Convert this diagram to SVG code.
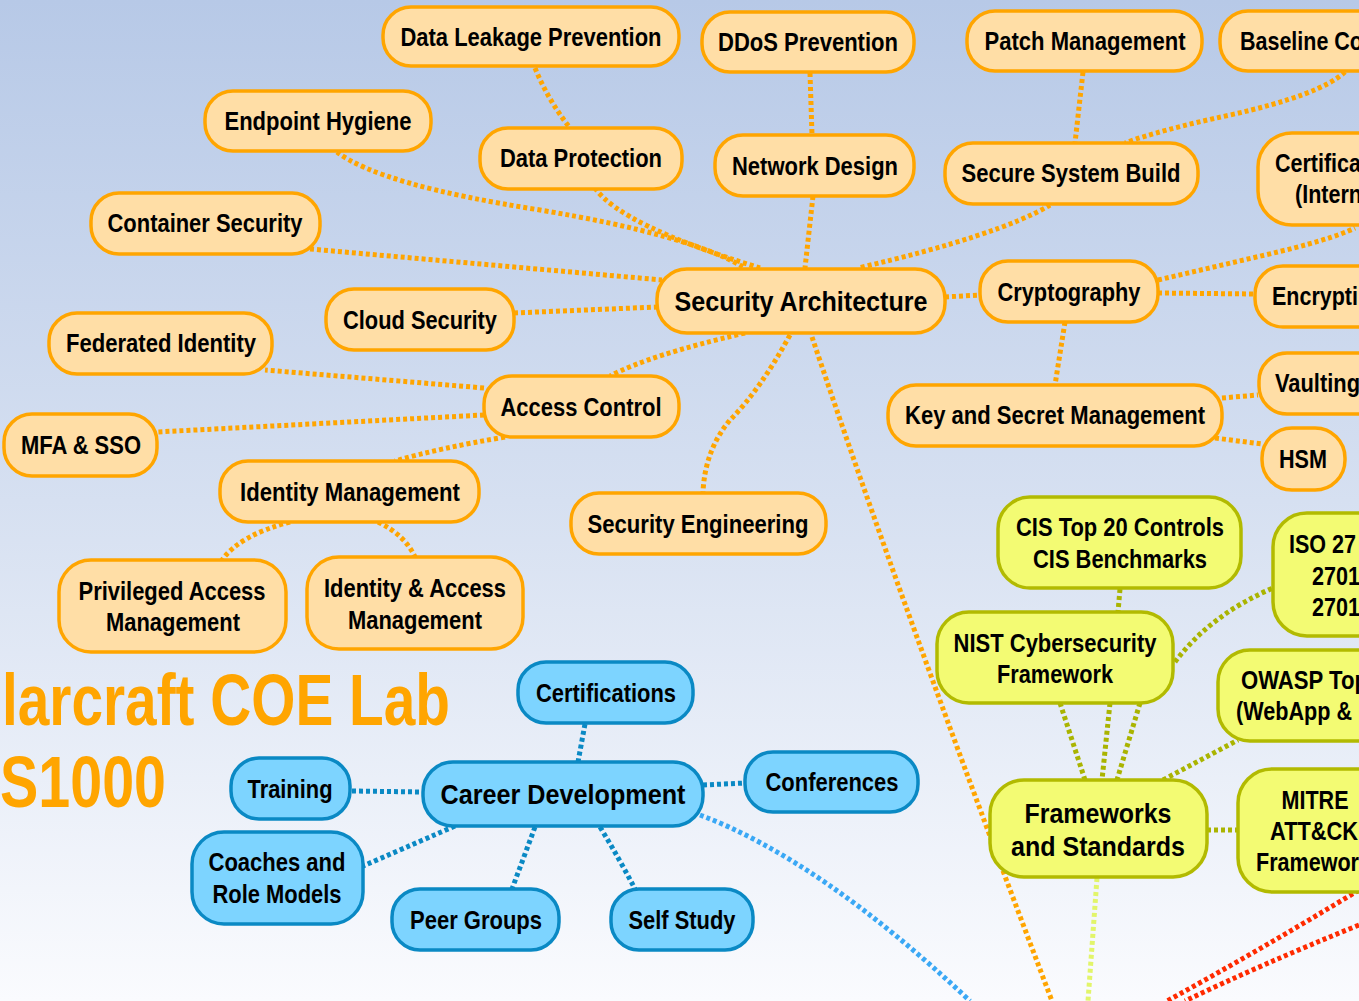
<svg xmlns="http://www.w3.org/2000/svg" width="1359" height="1001" viewBox="0 0 1359 1001">
<defs>
<linearGradient id="bg" x1="0" y1="0" x2="0" y2="1">
<stop offset="0" stop-color="#b7c9e7"/>
<stop offset="0.5" stop-color="#d6e0f1"/>
<stop offset="1" stop-color="#fafbfe"/>
</linearGradient>
<style>
.o rect{fill:#ffdea6;stroke:#ffa500;stroke-width:3.5}
.b rect{fill:#7dd4ff;stroke:#0a89c4;stroke-width:3.5}
.y rect{fill:#f3fb73;stroke:#b2ba00;stroke-width:3.5}
text{font-family:"Liberation Sans",Arial,sans-serif;font-weight:bold;fill:#000;font-size:25px}
.c{text-anchor:middle}
.big{font-size:28px}
.title{fill:#ffa500;font-size:72px}
#connectors path{fill:none;stroke-width:5;stroke-dasharray:4 3}
.co{stroke:#ffa500}
.cb{stroke:#0a89c4}
.cl{stroke:#3aa8f5}
.cy{stroke:#aab400}
.cyl{stroke:#e2f56a}
.cr{stroke:#ff2a00}
</style>
</defs>
<rect width="1359" height="1001" fill="url(#bg)"/>

<g id="title">
<text class="title" x="2" y="725" textLength="448" lengthAdjust="spacingAndGlyphs">larcraft COE Lab</text>
<text class="title" x="0" y="807" textLength="166" lengthAdjust="spacingAndGlyphs">S1000</text>
</g>

<g id="connectors">
<path class="co" d="M535,68 Q548,100 570,128"/>
<path class="co" d="M810,73 L812,135"/>
<path class="co" d="M1083,72 L1075,143"/>
<path class="co" d="M1345,72 Q1320,95 1230,115 Q1160,130 1125,143"/>
<path class="co" d="M813,196 L805,268"/>
<path class="co" d="M1050,205 Q1000,235 858,268"/>
<path class="co" d="M595,188 Q620,225 760,268"/>
<path class="co" d="M337,152 Q380,185 540,210 Q690,235 745,268"/>
<path class="co" d="M310,249 L662,280"/>
<path class="co" d="M514,313 L657,307"/>
<path class="co" d="M945,297 L980,295"/>
<path class="co" d="M1158,280 L1265,255 Q1330,240 1355,228"/>
<path class="co" d="M1158,293 L1255,294"/>
<path class="co" d="M1065,322 L1055,385"/>
<path class="co" d="M1222,398 L1258,395"/>
<path class="co" d="M1215,438 L1262,444"/>
<path class="co" d="M745,333 Q650,355 610,376"/>
<path class="co" d="M790,335 Q760,390 730,420 Q705,450 703,492"/>
<path class="co" d="M812,337 Q900,600 1052,1001"/>
<path class="co" d="M484,388 L265,370"/>
<path class="co" d="M484,415 L157,432"/>
<path class="co" d="M505,437 Q440,448 395,461"/>
<path class="co" d="M290,522 Q240,535 222,560"/>
<path class="co" d="M378,522 Q405,535 415,557"/>

<path class="cb" d="M585,724 L578,762"/>
<path class="cb" d="M352,791 L423,792"/>
<path class="cb" d="M703,785 L745,783"/>
<path class="cb" d="M455,826 Q400,850 363,866"/>
<path class="cb" d="M535,827 L512,889"/>
<path class="cb" d="M600,827 Q620,860 635,889"/>
<path class="cl" d="M700,815 Q820,860 970,1001"/>

<path class="cy" d="M1120,589 L1118,612"/>
<path class="cy" d="M1175,662 Q1210,615 1273,588"/>
<path class="cy" d="M1060,703 L1085,780"/>
<path class="cy" d="M1110,703 L1102,780"/>
<path class="cy" d="M1140,703 L1117,780"/>
<path class="cy" d="M1163,780 L1238,740"/>
<path class="cy" d="M1207,830 L1238,830"/>
<path class="cyl" d="M1097,878 L1088,1001"/>

<path class="cr" d="M1359,890 Q1260,950 1167,1001"/>
<path class="cr" d="M1359,925 Q1260,965 1185,1001"/>
</g>

<g id="n-dlp" class="o"><rect x="383" y="7" width="296" height="59" rx="28"/><text class="c" x="531" y="46" textLength="261" lengthAdjust="spacingAndGlyphs">Data Leakage Prevention</text></g>
<g id="n-ddos" class="o"><rect x="702" y="12" width="212" height="60" rx="28"/><text class="c" x="808" y="51" textLength="180" lengthAdjust="spacingAndGlyphs">DDoS Prevention</text></g>
<g id="n-patch" class="o"><rect x="967" y="11" width="235" height="60" rx="28"/><text class="c" x="1085" y="50" textLength="201" lengthAdjust="spacingAndGlyphs">Patch Management</text></g>
<g id="n-baseline" class="o"><rect x="1220" y="11" width="180" height="60" rx="28"/><text x="1240" y="50" textLength="123" lengthAdjust="spacingAndGlyphs">Baseline Co</text></g>
<g id="n-endpoint" class="o"><rect x="205" y="91" width="226" height="60" rx="28"/><text class="c" x="318" y="130" textLength="187" lengthAdjust="spacingAndGlyphs">Endpoint Hygiene</text></g>
<g id="n-dataprot" class="o"><rect x="480" y="128" width="202" height="61" rx="28"/><text class="c" x="581" y="167" textLength="162" lengthAdjust="spacingAndGlyphs">Data Protection</text></g>
<g id="n-netdesign" class="o"><rect x="715" y="135" width="199" height="61" rx="28"/><text class="c" x="815" y="175" textLength="166" lengthAdjust="spacingAndGlyphs">Network Design</text></g>
<g id="n-ssb" class="o"><rect x="945" y="143" width="253" height="61" rx="28"/><text class="c" x="1071" y="182" textLength="219" lengthAdjust="spacingAndGlyphs">Secure System Build</text></g>
<g id="n-cert" class="o"><rect x="1258" y="133" width="140" height="92" rx="34"/><text x="1275" y="172" textLength="86" lengthAdjust="spacingAndGlyphs">Certifica</text><text x="1295" y="203" textLength="67" lengthAdjust="spacingAndGlyphs">(Intern</text></g>
<g id="n-container" class="o"><rect x="91" y="193" width="229" height="61" rx="28"/><text class="c" x="205" y="232" textLength="195" lengthAdjust="spacingAndGlyphs">Container Security</text></g>
<g id="n-secarch" class="o"><rect x="657" y="269" width="288" height="64" rx="30"/><text class="c big" x="801" y="311" textLength="253" lengthAdjust="spacingAndGlyphs">Security Architecture</text></g>
<g id="n-crypto" class="o"><rect x="980" y="261" width="178" height="61" rx="28"/><text class="c" x="1069" y="301" textLength="143" lengthAdjust="spacingAndGlyphs">Cryptography</text></g>
<g id="n-encrypt" class="o"><rect x="1255" y="266" width="140" height="61" rx="28"/><text x="1272" y="305" textLength="86" lengthAdjust="spacingAndGlyphs">Encrypti</text></g>
<g id="n-cloud" class="o"><rect x="326" y="289" width="188" height="61" rx="28"/><text class="c" x="420" y="329" textLength="154" lengthAdjust="spacingAndGlyphs">Cloud Security</text></g>
<g id="n-federated" class="o"><rect x="49" y="313" width="223" height="61" rx="28"/><text class="c" x="161" y="352" textLength="190" lengthAdjust="spacingAndGlyphs">Federated Identity</text></g>
<g id="n-access" class="o"><rect x="484" y="376" width="195" height="61" rx="28"/><text class="c" x="581" y="416" textLength="161" lengthAdjust="spacingAndGlyphs">Access Control</text></g>
<g id="n-mfa" class="o"><rect x="4" y="414" width="153" height="62" rx="28"/><text class="c" x="81" y="454" textLength="120" lengthAdjust="spacingAndGlyphs">MFA &amp; SSO</text></g>
<g id="n-vault" class="o"><rect x="1259" y="353" width="140" height="61" rx="28"/><text x="1275" y="392" textLength="85" lengthAdjust="spacingAndGlyphs">Vaulting</text></g>
<g id="n-keysecret" class="o"><rect x="888" y="385" width="334" height="61" rx="28"/><text class="c" x="1055" y="424" textLength="300" lengthAdjust="spacingAndGlyphs">Key and Secret Management</text></g>
<g id="n-hsm" class="o"><rect x="1262" y="428" width="83" height="62" rx="30"/><text class="c" x="1303" y="468" textLength="48" lengthAdjust="spacingAndGlyphs">HSM</text></g>
<g id="n-idmgmt" class="o"><rect x="220" y="461" width="259" height="61" rx="28"/><text class="c" x="350" y="501" textLength="220" lengthAdjust="spacingAndGlyphs">Identity Management</text></g>
<g id="n-seceng" class="o"><rect x="571" y="493" width="255" height="61" rx="28"/><text class="c" x="698" y="533" textLength="221" lengthAdjust="spacingAndGlyphs">Security Engineering</text></g>
<g id="n-pam" class="o"><rect x="59" y="560" width="227" height="92" rx="32"/><text class="c" x="172" y="600" textLength="187" lengthAdjust="spacingAndGlyphs">Privileged Access</text><text class="c" x="173" y="631" textLength="134" lengthAdjust="spacingAndGlyphs">Management</text></g>
<g id="n-iam" class="o"><rect x="307" y="557" width="216" height="92" rx="32"/><text class="c" x="415" y="597" textLength="182" lengthAdjust="spacingAndGlyphs">Identity &amp; Access</text><text class="c" x="415" y="629" textLength="134" lengthAdjust="spacingAndGlyphs">Management</text></g>

<g id="n-certs" class="b"><rect x="518" y="662" width="175" height="61" rx="28"/><text class="c" x="606" y="702" textLength="140" lengthAdjust="spacingAndGlyphs">Certifications</text></g>
<g id="n-training" class="b"><rect x="231" y="758" width="119" height="61" rx="28"/><text class="c" x="290" y="798" textLength="85" lengthAdjust="spacingAndGlyphs">Training</text></g>
<g id="n-career" class="b"><rect x="423" y="762" width="280" height="64" rx="30"/><text class="c big" x="563" y="804" textLength="245" lengthAdjust="spacingAndGlyphs">Career Development</text></g>
<g id="n-conf" class="b"><rect x="745" y="752" width="173" height="60" rx="28"/><text class="c" x="832" y="791" textLength="133" lengthAdjust="spacingAndGlyphs">Conferences</text></g>
<g id="n-coaches" class="b"><rect x="192" y="832" width="171" height="92" rx="32"/><text class="c" x="277" y="871" textLength="137" lengthAdjust="spacingAndGlyphs">Coaches and</text><text class="c" x="277" y="903" textLength="129" lengthAdjust="spacingAndGlyphs">Role Models</text></g>
<g id="n-peer" class="b"><rect x="392" y="889" width="167" height="61" rx="28"/><text class="c" x="476" y="929" textLength="132" lengthAdjust="spacingAndGlyphs">Peer Groups</text></g>
<g id="n-self" class="b"><rect x="611" y="889" width="142" height="61" rx="28"/><text class="c" x="682" y="929" textLength="107" lengthAdjust="spacingAndGlyphs">Self Study</text></g>

<g id="n-cis" class="y"><rect x="998" y="497" width="243" height="91" rx="32"/><text class="c" x="1120" y="536" textLength="208" lengthAdjust="spacingAndGlyphs">CIS Top 20 Controls</text><text class="c" x="1120" y="568" textLength="174" lengthAdjust="spacingAndGlyphs">CIS Benchmarks</text></g>
<g id="n-iso" class="y"><rect x="1273" y="513" width="120" height="123" rx="34"/><text x="1289" y="553" textLength="67" lengthAdjust="spacingAndGlyphs">ISO 27</text><text x="1312" y="585" textLength="48" lengthAdjust="spacingAndGlyphs">2701</text><text x="1312" y="616" textLength="48" lengthAdjust="spacingAndGlyphs">2701</text></g>
<g id="n-nist" class="y"><rect x="937" y="612" width="236" height="91" rx="32"/><text class="c" x="1055" y="652" textLength="203" lengthAdjust="spacingAndGlyphs">NIST Cybersecurity</text><text class="c" x="1055" y="683" textLength="116" lengthAdjust="spacingAndGlyphs">Framework</text></g>
<g id="n-owasp" class="y"><rect x="1218" y="650" width="175" height="91" rx="32"/><text x="1241" y="689" textLength="127" lengthAdjust="spacingAndGlyphs">OWASP Top</text><text x="1236" y="720" textLength="116" lengthAdjust="spacingAndGlyphs">(WebApp &amp;</text></g>
<g id="n-frameworks" class="y"><rect x="990" y="780" width="217" height="97" rx="34"/><text class="c big" x="1098" y="823" textLength="147" lengthAdjust="spacingAndGlyphs">Frameworks</text><text class="c big" x="1098" y="856" textLength="174" lengthAdjust="spacingAndGlyphs">and Standards</text></g>
<g id="n-mitre" class="y"><rect x="1238" y="769" width="155" height="123" rx="34"/><text class="c" x="1315" y="809" textLength="67" lengthAdjust="spacingAndGlyphs">MITRE</text><text x="1270" y="840" textLength="88" lengthAdjust="spacingAndGlyphs">ATT&amp;CK</text><text x="1256" y="871" textLength="103" lengthAdjust="spacingAndGlyphs">Framewor</text></g>
</svg>
